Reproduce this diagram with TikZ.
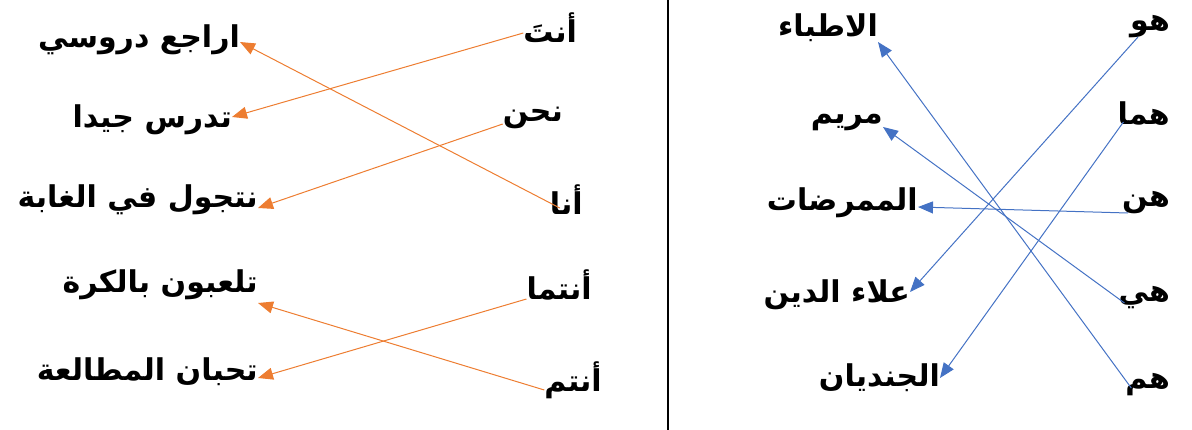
\documentclass[tikz,border=0pt]{standalone}
\usepackage{fontspec}
\newfontfamily\arabicfont[Script=Arabic]{DejaVu Sans}
\TeXXeTstate=1
\definecolor{OfficeOrange}{HTML}{ED7D31}
\definecolor{OfficeBlue}{HTML}{4472C4}
\usetikzlibrary{arrows.meta}

\begin{document}
\begin{tikzpicture}[x=1pt,y=-1pt,>={Triangle[length=15pt,width=12pt]},
  ar/.style={font=\arabicfont\bfseries\fontsize{30}{34}\selectfont,inner sep=0pt,anchor=east},
  orangelink/.style={->,line width=1pt,OfficeOrange},
  bluelink/.style={->,line width=1pt,OfficeBlue}]
  \useasboundingbox (0,0) rectangle (1192,430);
  % left half: pronouns and verbs
  \node[ar] (anta) at (577,28) {\beginR أنتَ\endR};
  \node[ar] (nahnu) at (563,118) {\beginR نحن\endR};
  \node[ar] (ana) at (583,200) {\beginR أنا\endR};
  \node[ar] (antuma) at (592,285) {\beginR أنتما\endR};
  \node[ar] (antum) at (602,380) {\beginR أنتم\endR};
  \node[ar] (rajiu) at (240,40) {\beginR اراجع دروسي\endR};
  \node[ar] (tadrus) at (232,120) {\beginR تدرس جيدا\endR};
  \node[ar] (natajawal) at (258,200) {\beginR نتجول في الغابة\endR};
  \node[ar] (talabun) at (258,285) {\beginR تلعبون بالكرة\endR};
  \node[ar] (tuhibban) at (258,372) {\beginR تحبان المطالعة\endR};
  \draw[orangelink] ([yshift=-5pt]anta.west) -- ([yshift=3pt]tadrus.east);
  \draw[orangelink] ([yshift=-6pt]nahnu.west) -- ([yshift=-8pt]natajawal.east);
  \draw[orangelink] ([xshift=10pt,yshift=-8pt]ana.west) -- ([yshift=-2pt]rajiu.east);
  \draw[orangelink] ([yshift=-14pt]antuma.west) -- ([yshift=-6pt]tuhibban.east);
  \draw[orangelink] ([yshift=-10pt]antum.west) -- ([yshift=-18pt]talabun.east);
  % divider
  \coordinate (divtop) at (668,0);
  \coordinate (divbot) at (668,430);
  \draw[line width=2pt] (divtop) -- (divbot);
  % right half: pronouns and nouns
  \node[ar] (huwa) at (1170,27) {\beginR هو\endR};
  \node[ar] (huma) at (1170,114) {\beginR هما\endR};
  \node[ar] (hunna) at (1170,203) {\beginR هن\endR};
  \node[ar] (hiya) at (1170,298) {\beginR هي\endR};
  \node[ar] (hum) at (1170,385) {\beginR هم\endR};
  \node[ar] (atibba) at (878,28) {\beginR الاطباء\endR};
  \node[ar] (maryam) at (883,123) {\beginR مريم\endR};
  \node[ar] (mumarridat) at (918,203) {\beginR الممرضات\endR};
  \node[ar] (alaa) at (910,295) {\beginR علاء الدين\endR};
  \node[ar] (jundiyan) at (940,378) {\beginR الجنديان\endR};
  \draw[bluelink] ([xshift=8pt,yshift=-10pt]huwa.west) -- ([yshift=3pt]alaa.east);
  \draw[bluelink] ([xshift=6pt,yshift=-8pt]huma.west) -- (jundiyan.east);
  \draw[bluelink] ([xshift=6pt,yshift=-10pt]hunna.west) -- ([yshift=-4pt]mumarridat.east);
  \draw[bluelink] ([xshift=6pt,yshift=-5pt]hiya.west) -- ([yshift=-4pt]maryam.east);
  \draw[bluelink] ([xshift=6pt,yshift=-3pt]hum.west) -- ([yshift=-14pt]atibba.east);
\end{tikzpicture}
\end{document}
